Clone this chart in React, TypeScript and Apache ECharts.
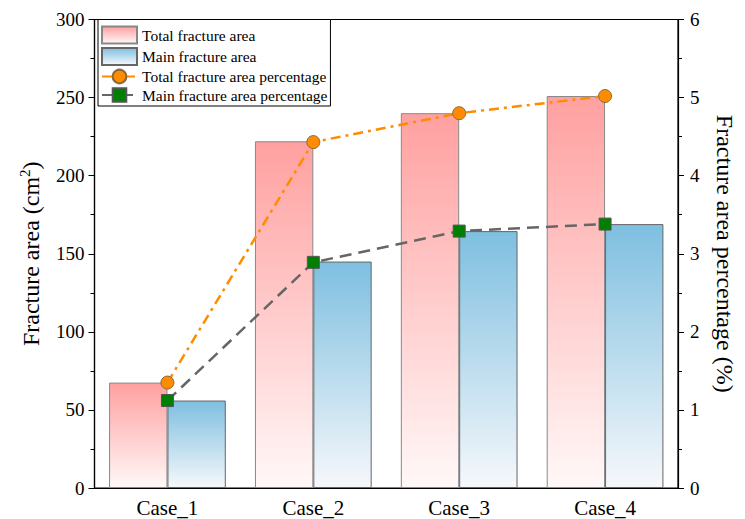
import React, { useEffect, useRef } from "react";
import * as echarts from "echarts";

const categories = ["Case_1", "Case_2", "Case_3", "Case_4"];
const totalArea = [67.5, 222, 240, 251];
const mainArea = [56, 145, 164.5, 169];
const totalPct = [1.35, 4.43, 4.8, 5.02];
const mainPct = [1.12, 2.89, 3.29, 3.38];
const leftTicks = { min: 0, max: 300, interval: 50 };
const rightTicks = { min: 0, max: 6, interval: 1 };

const FONT = "Liberation Serif";

export default function App() {
  const ref = useRef<HTMLDivElement>(null);
  useEffect(() => {
    if (!ref.current) return;
    const chart = echarts.init(ref.current, null, { renderer: "svg" });
    const pinkGrad = new echarts.graphic.LinearGradient(0, 0, 0, 1, [
      { offset: 0, color: "#ffa0a0" },
      { offset: 1, color: "#fff8f8" },
    ]);
    const blueGrad = new echarts.graphic.LinearGradient(0, 0, 0, 1, [
      { offset: 0, color: "#7ebfe0" },
      { offset: 1, color: "#f6f8fb" },
    ]);
    chart.setOption({
      animation: false,
      backgroundColor: "#fff",
      grid: {
        left: 94.5,
        right: 59.5,
        top: 19.5,
        bottom: 31,
        show: true,
        borderColor: "#000",
        borderWidth: 1.2,
      },
      legend: {
        orient: "vertical",
        left: 98,
        top: 19.5,
        itemWidth: 35,
        itemHeight: 17,
        itemGap: 2.5,
        padding: [6, 3, 3, 3],
        borderColor: "#000",
        borderWidth: 1,
        backgroundColor: "#fff",
        textStyle: { fontFamily: FONT, fontSize: 15.5, color: "#000" },
        data: [
          { name: "Total fracture area", icon: "rect" },
          { name: "Main fracture area", icon: "rect" },
          { name: "Total fracture area percentage" },
          { name: "Main fracture area percentage" },
        ],
      },
      xAxis: {
        type: "category",
        data: categories,
        axisLine: { lineStyle: { color: "#000", width: 1.2 } },
        axisTick: { show: false },
        axisLabel: { fontFamily: FONT, fontSize: 21, color: "#000", margin: 9 },
      },
      yAxis: [
        {
          type: "value",
          ...leftTicks,
          name: "Fracture area (cm{sup|2})",
          nameLocation: "middle",
          nameGap: 50,
          nameTextStyle: {
            fontFamily: FONT,
            fontSize: 24,
            color: "#000",
            rich: {
              sup: { fontFamily: FONT, fontSize: 15, color: "#000", verticalAlign: "top", padding: [0, 0, 12, 0] },
            },
          },
          axisLine: { show: true, lineStyle: { color: "#000", width: 1.2 } },
          axisTick: { show: true, length: 6, lineStyle: { color: "#000" } },
          minorTick: { show: true, splitNumber: 2, length: 4, lineStyle: { color: "#000" } },
          splitLine: { show: false },
          axisLabel: { fontFamily: FONT, fontSize: 19, color: "#000", margin: 10 },
        },
        {
          type: "value",
          ...rightTicks,
          name: "Fracture area percentage (%)",
          nameLocation: "middle",
          nameGap: 35,
          nameRotate: -90,
          nameTextStyle: { fontFamily: FONT, fontSize: 24, color: "#000" },
          axisLine: { show: true, lineStyle: { color: "#000", width: 1.2 } },
          axisTick: { show: true, length: 6, lineStyle: { color: "#000" } },
          minorTick: { show: true, splitNumber: 2, length: 4, lineStyle: { color: "#000" } },
          splitLine: { show: false },
          axisLabel: { fontFamily: FONT, fontSize: 19, color: "#000", margin: 12 },
        },
      ],
      series: [
        {
          name: "Total fracture area",
          type: "bar",
          data: totalArea,
          barGap: "0%",
          barCategoryGap: "20%",
          itemStyle: { color: pinkGrad, borderColor: "#888", borderWidth: 1 },
        },
        {
          name: "Main fracture area",
          type: "bar",
          data: mainArea,
          itemStyle: { color: blueGrad, borderColor: "#666", borderWidth: 1 },
        },
        {
          name: "Total fracture area percentage",
          type: "line",
          yAxisIndex: 1,
          data: totalPct,
          symbol: "circle",
          symbolSize: 13,
          z: 5,
          lineStyle: { color: "#ff8c00", width: 2.5, type: [10, 5, 3, 5] },
          itemStyle: { color: "#ff8c00", borderColor: "#8a6a3a", borderWidth: 1 },
        },
        {
          name: "Main fracture area percentage",
          type: "line",
          yAxisIndex: 1,
          data: mainPct,
          symbol: "rect",
          symbolSize: 12,
          z: 5,
          lineStyle: { color: "#666", width: 2.5, type: [12, 7] },
          itemStyle: { color: "#008000", borderColor: "#555", borderWidth: 1 },
        },
      ],
    });
    return () => chart.dispose();
  }, []);
  return <div ref={ref} style={{ width: 745, height: 519, position: "absolute", left: 0, top: 0 }} />;
}
